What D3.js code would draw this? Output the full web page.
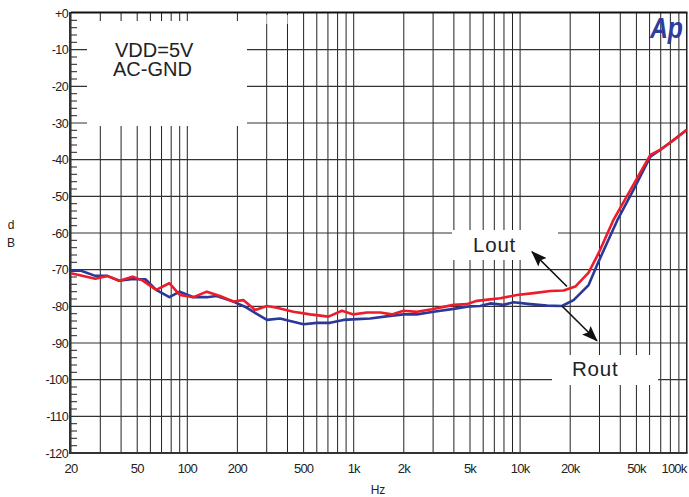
<!DOCTYPE html>
<html><head><meta charset="utf-8">
<script src="https://cdn.jsdelivr.net/npm/d3@7"></script>
<style>
body{margin:0;background:#fff}
svg{display:block}
text{font-family:"Liberation Sans",Arial,Helvetica,sans-serif}
</style>
</head><body>
<svg id="c" width="689" height="497"></svg>
<script>
// ---- data ----
const freqTicks  = [20,50,100,200,500,1000,2000,5000,10000,20000,50000,100000];
const freqLabels = ["20","50","100","200","500","1k","2k","5k","10k","20k","50k","100k"];
const dbTicks  = [0,-10,-20,-30,-40,-50,-60,-70,-80,-90,-100,-110,-120];
const dbLabels = ["+0","-10","-20","-30","-40","-50","-60","-70","-80","-90","-100","-110","-120"];

const routFreq = [20,23,28,33,39,46,56,65,78,90,109,131,150,189,222,274,301,361,499,600,722,868,1045,1256,1656,1992,2398,3018,3980,5016,5760,6614,7954,9134,11508,14506,17854,20960,25800,29620,38400,47900,60640,69660,82220,100000];
const routDb   = [-70.3,-70.3,-71.7,-71.7,-73.0,-72.6,-72.6,-75.5,-77.5,-76.0,-77.5,-77.5,-77.2,-78.7,-80.1,-82.6,-83.7,-83.3,-84.9,-84.5,-84.5,-83.7,-83.5,-83.3,-82.6,-82.2,-82.2,-81.5,-80.7,-80.0,-79.9,-79.2,-79.6,-78.9,-79.4,-79.8,-79.9,-78.3,-74.2,-67.8,-56.5,-48.3,-39.2,-37.3,-34.9,-31.9];

const loutFreq = [20,28,33,39,47,54,65,78,90,109,131,157,189,217,256,301,345,434,547,705,849,997,1200,1443,1696,1992,2398,2952,3980,4792,5502,6614,7596,9572,12052,15188,18254,21460,25800,29620,36320,47900,60640,69660,82220,100000];
const loutDb   = [-71.0,-72.5,-71.7,-73.0,-71.9,-73.0,-75.5,-73.7,-76.9,-77.5,-76.0,-77.2,-78.7,-78.3,-81.0,-79.9,-80.4,-81.5,-82.2,-82.8,-81.2,-82.2,-81.7,-81.7,-82.2,-81.2,-81.5,-80.8,-79.6,-79.4,-78.5,-78.1,-77.8,-76.9,-76.4,-75.8,-75.7,-74.6,-70.8,-65.5,-56.5,-46.9,-38.7,-37.3,-34.9,-31.9];

// annotation arrows in data space: [fromFreq, fromDb, toFreq, toDb]
const loutArrow = [19130, -74.6, 11784, -65.1];
const routArrow = [17854, -79.9, 28980, -89.4];

// ---- layout ----
const L = 71, R = 686.5, T = 13, B = 453;
const svg = d3.select("#c");
const x = d3.scaleLog().domain([20, 100000]).range([L, R]);
const y = d3.scaleLinear().domain([-120, 0]).range([B, T]);

// vertical grid
const vgrid = [];
for (let dec = 10; dec <= 100000; dec *= 10)
  for (let m = 1; m <= 9; m++) { const f = dec * m; if (f >= 20 && f <= 100000) vgrid.push(f); }
svg.append("g").selectAll("line").data(vgrid).join("line")
  .attr("x1", d => x(d)).attr("x2", d => x(d)).attr("y1", T).attr("y2", B)
  .attr("stroke", "#222").attr("stroke-width", 1);

// horizontal grid
svg.append("g").selectAll("line").data(dbTicks.filter(d => d < 0 && d > -120)).join("line")
  .attr("x1", L).attr("x2", R).attr("y1", d => y(d)).attr("y2", d => y(d))
  .attr("stroke", "#333").attr("stroke-width", 1.1);

// minor ticks on y axis
const minor = d3.range(0, -121, -2).filter(d => d % 10 !== 0);
svg.append("g").selectAll("line").data(minor).join("line")
  .attr("x1", L).attr("x2", L + 6).attr("y1", d => y(d)).attr("y2", d => y(d))
  .attr("stroke", "#333").attr("stroke-width", 1.1);

// white masks behind annotation text
const masks = [[87,21,160,105,1],[452,230,106,30,1],[552,355,106,30,1],[252,15,48,9,0.6]];
svg.append("g").selectAll("rect").data(masks).join("rect")
  .attr("x", d => d[0]).attr("y", d => d[1]).attr("width", d => d[2]).attr("height", d => d[3])
  .attr("fill", "#fff").attr("fill-opacity", d => d[4]);

// frame
svg.append("line").attr("x1", L).attr("x2", R + 1).attr("y1", T - 0.5).attr("y2", T - 0.5).attr("stroke", "#111").attr("stroke-width", 2);
svg.append("line").attr("x1", L).attr("x2", R + 1).attr("y1", B).attr("y2", B).attr("stroke", "#333").attr("stroke-width", 2);
svg.append("line").attr("x1", L - 1).attr("x2", L - 1).attr("y1", T - 1).attr("y2", B + 1).attr("stroke", "#333").attr("stroke-width", 2);
svg.append("line").attr("x1", R + 0.5).attr("x2", R + 0.5).attr("y1", T).attr("y2", B).attr("stroke", "#222").attr("stroke-width", 1);

// y labels
svg.append("g").selectAll("text").data(dbTicks).join("text")
  .attr("x", 68).attr("y", d => y(d)).attr("dy", "0.36em")
  .attr("text-anchor", "end").attr("font-size", 12.5).attr("letter-spacing", -0.6)
  .attr("fill", "#222").text((d, i) => dbLabels[i]);

// x labels
svg.append("g").selectAll("text").data(freqTicks).join("text")
  .attr("x", (d, i) => i === freqTicks.length - 1 ? R : x(d)).attr("y", 473)
  .attr("text-anchor", (d, i) => i === freqTicks.length - 1 ? "end" : "middle")
  .attr("font-size", 13).attr("letter-spacing", -0.8)
  .attr("fill", "#222").text((d, i) => freqLabels[i]);

// axis titles
svg.append("text").attr("x", 378).attr("y", 494).attr("text-anchor", "middle").attr("font-size", 12).attr("fill", "#222").text("Hz");
svg.append("text").attr("x", 11).attr("y", 229).attr("text-anchor", "middle").attr("font-size", 12).attr("fill", "#222").text("d");
svg.append("text").attr("x", 11).attr("y", 247).attr("text-anchor", "middle").attr("font-size", 12).attr("fill", "#222").text("B");

// annotation text
svg.append("text").attr("x", 115).attr("y", 56.5).attr("font-size", 20).attr("fill", "#222").text("VDD=5V");
svg.append("text").attr("x", 113).attr("y", 76).attr("font-size", 20).attr("fill", "#222").text("AC-GND");
svg.append("text").attr("x", 473).attr("y", 252).attr("font-size", 20.5).attr("letter-spacing", 0.8).attr("fill", "#222").text("Lout");
svg.append("text").attr("x", 572).attr("y", 376).attr("font-size", 20.5).attr("letter-spacing", 0.8).attr("fill", "#222").text("Rout");

// Ap logo
svg.append("text").attr("x", 650).attr("y", 38).attr("font-size", 29).attr("font-weight", "bold")
  .attr("font-style", "italic").attr("fill", "#2E3C9E")
  .attr("textLength", 33).attr("lengthAdjust", "spacingAndGlyphs").text("Ap");

// curves
const line = d3.line().x(d => x(d[0])).y(d => y(d[1]));
const rout = routFreq.map((f, i) => [f, routDb[i]]);
const lout = loutFreq.map((f, i) => [f, loutDb[i]]);
svg.append("path").attr("d", line(rout)).attr("fill", "none").attr("stroke", "#2B3899").attr("stroke-width", 2.6).attr("stroke-linejoin", "round");
svg.append("path").attr("d", line(lout)).attr("fill", "none").attr("stroke", "#EC1C2A").attr("stroke-width", 2.6).attr("stroke-linejoin", "round");

// arrows
const defs = svg.append("defs");
defs.append("marker").attr("id", "ah").attr("viewBox", "0 0 16 12").attr("refX", 15).attr("refY", 6)
  .attr("markerWidth", 16).attr("markerHeight", 12).attr("markerUnits", "userSpaceOnUse").attr("orient", "auto")
  .append("path").attr("d", "M0,0 L16,6 L0,12 L3,6 Z").attr("fill", "#111");
[loutArrow, routArrow].forEach(a => {
  svg.append("line").attr("x1", x(a[0])).attr("y1", y(a[1])).attr("x2", x(a[2])).attr("y2", y(a[3]))
    .attr("stroke", "#111").attr("stroke-width", 1.6).attr("marker-end", "url(#ah)");
});
</script>
</body></html>
